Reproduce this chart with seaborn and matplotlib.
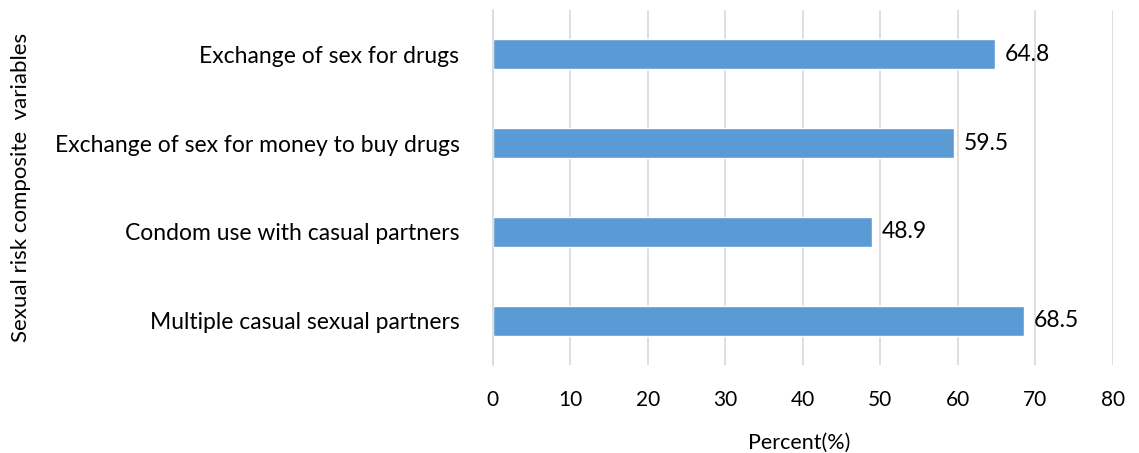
import matplotlib
matplotlib.use('Agg')
import matplotlib.pyplot as plt
import pandas as pd
import seaborn as sns

# Data
categories = ['Exchange of sex for drugs',
              'Exchange of sex for money to buy drugs',
              'Condom use with casual partners',
              'Multiple casual sexual partners']
percent = [64.8, 59.5, 48.9, 68.5]
xticks = [0, 10, 20, 30, 40, 50, 60, 70, 80]

df = pd.DataFrame({'variable': categories, 'percent': percent})

sns.set_theme(style='white')
plt.rcParams['font.family'] = ['Lato', 'DejaVu Sans']

fig = plt.figure(figsize=(11.39, 4.53), dpi=100)
ax = fig.add_axes([0.4326, 0.194, 0.5443, 0.784])

sns.barplot(data=df, x='percent', y='variable', color='#5B9BD5',
            saturation=1, width=0.34, ax=ax, zorder=2)

# value labels at the bar ends
for i, v in enumerate(percent):
    ax.text(v + 1.3, i, f'{v:.1f}', va='center', ha='left',
            fontsize=16.5, color='#000000')

ax.set(xlim=(0, 80), xticks=xticks)
ax.set_xlabel('Percent(%)', fontsize=15.5, color='#000000')
ax.set_ylabel('Sexual risk composite  variables', fontsize=16,
              color='#000000')
ax.xaxis.set_label_coords(0.495, -0.19)
ax.yaxis.set_label_coords(-0.745, 0.5)
ax.tick_params(axis='x', labelsize=15, pad=18, length=0, colors='#000000')
ax.tick_params(axis='y', labelsize=16.5, pad=24, length=0, colors='#000000')
ax.xaxis.grid(True, color='#d9d9d9', linewidth=1.2, zorder=0)
ax.set_axisbelow(True)
for s in ['top', 'right', 'bottom']:
    ax.spines[s].set_visible(False)
ax.spines['left'].set_color('#d9d9d9')
ax.spines['left'].set_linewidth(1.2)

fig.savefig('out.png', dpi=100)
